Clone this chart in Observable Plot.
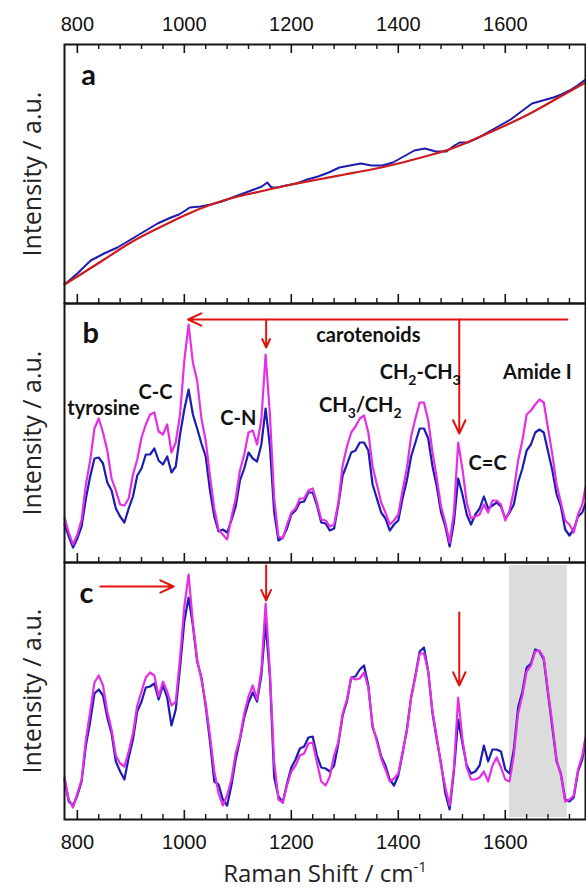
<!DOCTYPE html>
<html><head><meta charset="utf-8">
<script src="https://cdn.jsdelivr.net/npm/d3@7"></script>
<script src="https://cdn.jsdelivr.net/npm/@observablehq/plot@0.6"></script>
<style>
html,body{margin:0;padding:0;background:#fff;}
#chart{width:586px;}
#chart svg{display:block;}
</style></head><body><div id="chart"></div>
<script>
// ---------- x axis ----------
const xDomain = [776, 1750];
const majorTicks = [800, 1000, 1200, 1400, 1600];
const minorTicks = [840,880,920,960,1040,1080,1120,1160,1240,1280,1320,1360,1440,1480,1520,1560,1640,1680,1720];

// ---------- panel a (raw spectrum + baseline) ----------
const shiftA = [776,800,825,850,875,900,925,950,975,990,1002,1010,1030,1050,1070,1090,1110,1130,1145,1155,1163,1175,1190,1210,1230,1250,1270,1290,1310,1330,1350,1370,1390,1410,1430,1450,1470,1490,1505,1515,1530,1550,1570,1590,1610,1630,1650,1670,1690,1705,1720,1735,1750];
const blueA = [19,30,43,50,56,64,72,80,86,89,93,96,97,99,102,106,110,114,117,121,116,116,118,120,124,127,131,136,138,140,138,138,141,147,153,155,152,152,158,161,161,166,172,178,184,192,200,203,206,209,213,218,224];
const shiftRed = [776,800,850,900,950,1000,1050,1100,1150,1200,1250,1300,1350,1400,1450,1500,1550,1600,1650,1700,1750];
const redA = [19,27,44,61,75,88,99,107,113,119,124,129,134,140,147,155,166,178,191,206,221];

// ---------- panels b and c (baseline-corrected spectra) ----------
const shift = [776,784,792,800,808,816,824,832,840,848,
  856,864,872,880,888,896,904,912,920,928,
  936,944,952,960,968,976,984,992,1000,1008,
  1016,1024,1032,1040,1048,1056,1064,1072,1080,1088,
  1096,1104,1112,1120,1128,1136,1144,1152,1160,1168,
  1176,1184,1192,1200,1208,1216,1224,1232,1240,1248,
  1256,1264,1272,1280,1288,1296,1304,1312,1320,1328,
  1336,1344,1352,1360,1368,1376,1384,1392,1400,1408,
  1416,1424,1432,1440,1448,1456,1464,1472,1480,1488,
  1496,1504,1512,1520,1528,1536,1544,1552,1560,1568,
  1576,1584,1592,1600,1608,1616,1624,1632,1640,1648,
  1656,1664,1672,1680,1688,1696,1704,1712,1720,1728,
  1736,1744,1750];
const magentaB = [45,30,18,28,43,78,102,134,144,130,
  112,84,72,58,57,64,88,103,125,138,
  148,150,131,128,138,110,120,148,202,238,
  200,182,144,122,86,54,33,28,23,45,
  64,92,108,130,132,118,143,208,148,64,
  26,24,38,50,54,64,64,72,74,60,
  43,42,36,38,60,97,116,130,136,144,
  147,130,96,78,60,50,38,42,48,72,
  94,126,144,160,160,142,110,84,56,40,
  20,50,120,93,60,44,46,48,58,50,
  62,62,58,42,52,72,102,122,148,152,
  158,163,160,134,108,78,60,42,38,30,
  48,58,75];
const blueB = [38,26,15,24,36,64,86,104,105,99,
  80,72,54,46,40,54,66,87,94,108,
  108,114,102,98,106,90,96,128,153,173,
  148,134,119,106,72,46,31,33,30,42,
  56,82,94,110,104,101,118,154,116,50,
  22,25,34,48,52,60,61,70,70,57,
  40,39,32,34,58,87,98,110,112,120,
  120,112,78,64,50,44,32,38,42,64,
  82,106,120,134,134,124,96,76,50,36,
  16,40,84,68,48,38,48,54,66,54,
  57,60,56,44,50,58,80,94,112,118,
  130,133,130,111,92,68,56,33,27,33,
  46,50,59];
const magentaC = [42,20,12,26,40,80,108,137,144,134,
  108,90,64,56,53,68,86,114,128,142,
  147,144,123,138,128,114,118,162,213,245,
  197,160,140,116,84,48,26,14,24,40,
  66,82,106,123,134,120,150,216,148,57,
  20,17,34,48,54,64,66,76,77,57,
  38,34,43,64,78,106,120,142,140,141,
  147,132,94,78,61,50,38,41,46,68,
  88,122,143,166,166,148,108,82,54,32,
  14,52,122,80,52,40,40,42,48,38,
  54,62,52,40,38,64,106,124,148,154,
  168,169,162,128,96,60,44,18,20,24,
  50,64,82];
const blueC = [40,18,14,24,38,74,98,126,130,124,
  102,86,58,48,40,62,80,108,118,132,
  133,136,120,134,122,94,110,152,198,222,
  194,158,142,113,78,38,35,20,14,34,
  60,80,102,117,127,118,144,196,143,42,
  23,17,36,52,60,71,73,82,83,64,
  52,51,48,54,76,104,118,142,143,150,
  154,134,92,80,63,54,40,34,44,66,
  90,122,144,168,172,148,106,80,56,26,
  10,48,100,76,54,46,48,54,74,58,
  70,70,68,50,46,70,112,128,152,156,
  170,168,160,126,92,58,46,20,18,22,
  48,60,80];

// ---------- annotations ----------
const panelLetters = ["a", "b", "c"];
const letterX = [821, 825, 817];
const letterY = [228, 229, 226];

const bandLabels = ["tyrosine", "C-C", "C-N", "carotenoids", "CH3/CH2", "CH2-CH3", "C=C", "Amide I"];
const bandX = [849, 946, 1101, 1344, 1329, 1441, 1567, 1660];
const bandY = [154, 170, 144, 227, 157, 190, 99, 190];

const arrowBx1 = [1716, 1153, 1514];
const arrowBy1 = [243, 243, 243];
const arrowBx2 = [1007, 1153, 1514];
const arrowBy2 = [243, 215, 129];

const arrowCx1 = [843, 1153, 1514];
const arrowCy1 = [233, 254, 207];
const arrowCx2 = [980, 1153, 1514];
const arrowCy2 = [233, 219, 134];

const amideBand = [[1608, 1716]];

const yTitle = "Intensity / a.u.";
const xTitle = "Raman Shift / cm-1";

// ---------- style ----------
const COL = {blue: "#1c1cb2", magenta: "#e52fe5", red: "#cc1c1c", arrow: "#e0130f", frame: "#141414", band: "#dcdcdc"};
const W = 586, ML = 64, MR = 1;
const tickFont = "'Liberation Sans', Arial, sans-serif";
const titleFont = "'Open Sans', sans-serif";
const labelFont = "Lato, 'Open Sans', sans-serif";

const pairs = (xs, ys) => xs.map((x, i) => [x, ys[i]]);
const idx = (a) => a.map((_, i) => i);

function tickMarks(where, h) {
  const maj = where === "top" ? {insetBottom: h - 9} : {insetTop: h - 9};
  const mnr = where === "top" ? {insetBottom: h - 5} : {insetTop: h - 5};
  return [
    Plot.tickX(majorTicks, {x: d => d, stroke: COL.frame, strokeWidth: 1.6, ...maj}),
    Plot.tickX(minorTicks, {x: d => d, stroke: COL.frame, strokeWidth: 1.4, ...mnr})
  ];
}
function yLabel() {
  return Plot.text([yTitle], {text: d => d, frameAnchor: "left", textAnchor: "middle", rotate: -90, dx: -32,
    fontSize: 25, fontFamily: titleFont, fill: "#222"});
}
function letter(i) {
  return Plot.text([i], {x: j => letterX[j], y: j => letterY[j], text: j => panelLetters[j],
    fontSize: 29, fontWeight: "bold", fontFamily: labelFont, fill: "#111"});
}
function arrows(x1, y1, x2, y2) {
  return Plot.arrow(idx(x1), {x1: i => x1[i], y1: i => y1[i], x2: i => x2[i], y2: i => y2[i],
    stroke: COL.arrow, strokeWidth: 2, headLength: 11, headAngle: 50});
}
function base(height, mt, mb, ymax, marks) {
  return Plot.plot({
    width: W, height, marginLeft: ML, marginRight: MR, marginTop: mt, marginBottom: mb,
    x: {domain: xDomain, axis: null},
    y: {domain: [0, ymax], axis: null},
    style: {fontFamily: tickFont, background: "transparent", overflow: "visible"},
    marks
  });
}

const hA = 259, hB = 259, hC = 257;

const plotA = base(303, 44, 0, hA, [
  Plot.line(pairs(shiftA, blueA), {stroke: COL.blue, strokeWidth: 2}),
  Plot.line(pairs(shiftRed, redA), {stroke: COL.red, strokeWidth: 2.2, curve: "natural"}),
  ...tickMarks("top", hA),
  ...tickMarks("bottom", hA),
  Plot.text(majorTicks, {x: d => d, text: d => String(d), frameAnchor: "top", dy: -20, lineAnchor: "middle", fontSize: 20, fill: "#111"}),
  letter(0),
  yLabel(),
  Plot.frame({stroke: COL.frame, strokeWidth: 2})
]);

const plotB = base(259, 0, 0, hB, [
  Plot.line(pairs(shift, blueB), {stroke: COL.blue, strokeWidth: 2.2}),
  Plot.line(pairs(shift, magentaB), {stroke: COL.magenta, strokeWidth: 2.2}),
  ...tickMarks("bottom", hB),
  arrows(arrowBx1, arrowBy1, arrowBx2, arrowBy2),
  Plot.text(idx(bandLabels), {x: i => bandX[i], y: i => bandY[i], text: i => bandLabels[i],
    fontSize: 20, fontWeight: "bold", fontFamily: labelFont, fill: "#111"}),
  letter(1),
  yLabel(),
  Plot.frame({stroke: COL.frame, strokeWidth: 2})
]);

const plotC = base(328, 0, 71, hC, [
  Plot.rect(amideBand, {x1: d => d[0], x2: d => d[1], fill: COL.band, insetTop: 3, insetBottom: 2}),
  Plot.line(pairs(shift, blueC), {stroke: COL.blue, strokeWidth: 2.2}),
  Plot.line(pairs(shift, magentaC), {stroke: COL.magenta, strokeWidth: 2.2}),
  ...tickMarks("bottom", hC),
  arrows(arrowCx1, arrowCy1, arrowCx2, arrowCy2),
  Plot.text(majorTicks, {x: d => d, text: d => String(d), frameAnchor: "bottom", dy: 23, lineAnchor: "middle", fontSize: 20, fill: "#111"}),
  Plot.text([xTitle], {text: d => d, frameAnchor: "bottom", dy: 55, lineAnchor: "middle", fontSize: 24, fontFamily: titleFont, fill: "#222"}),
  letter(2),
  yLabel(),
  Plot.frame({stroke: COL.frame, strokeWidth: 2})
]);

const root = document.getElementById("chart");
[plotA, plotB, plotC].forEach(p => root.appendChild(p));

// chemical subscripts and unit superscript as real tspans
const NS = "http://www.w3.org/2000/svg";
function subscriptify(el) {
  const t = el.textContent; el.textContent = "";
  let shifted = false;
  for (const p of t.split(/(\d)/)) {
    if (!p) continue;
    const ts = document.createElementNS(NS, "tspan");
    ts.textContent = p;
    if (/^\d$/.test(p)) { ts.setAttribute("dy", shifted ? 0 : 6); ts.setAttribute("font-size", 14); shifted = true; }
    else { if (shifted) ts.setAttribute("dy", -6); shifted = false; }
    el.appendChild(ts);
  }
}
d3.select(plotB).selectAll("text").each(function () { if (/^CH\d/.test(this.textContent)) subscriptify(this); });
d3.select(plotC).selectAll("text").each(function () {
  if (this.textContent === xTitle) {
    this.textContent = "";
    const a = document.createElementNS(NS, "tspan"); a.textContent = "Raman Shift / cm";
    const b = document.createElementNS(NS, "tspan"); b.textContent = "-1"; b.setAttribute("dy", -10); b.setAttribute("font-size", 15);
    this.appendChild(a); this.appendChild(b);
  }
});
</script></body></html>
